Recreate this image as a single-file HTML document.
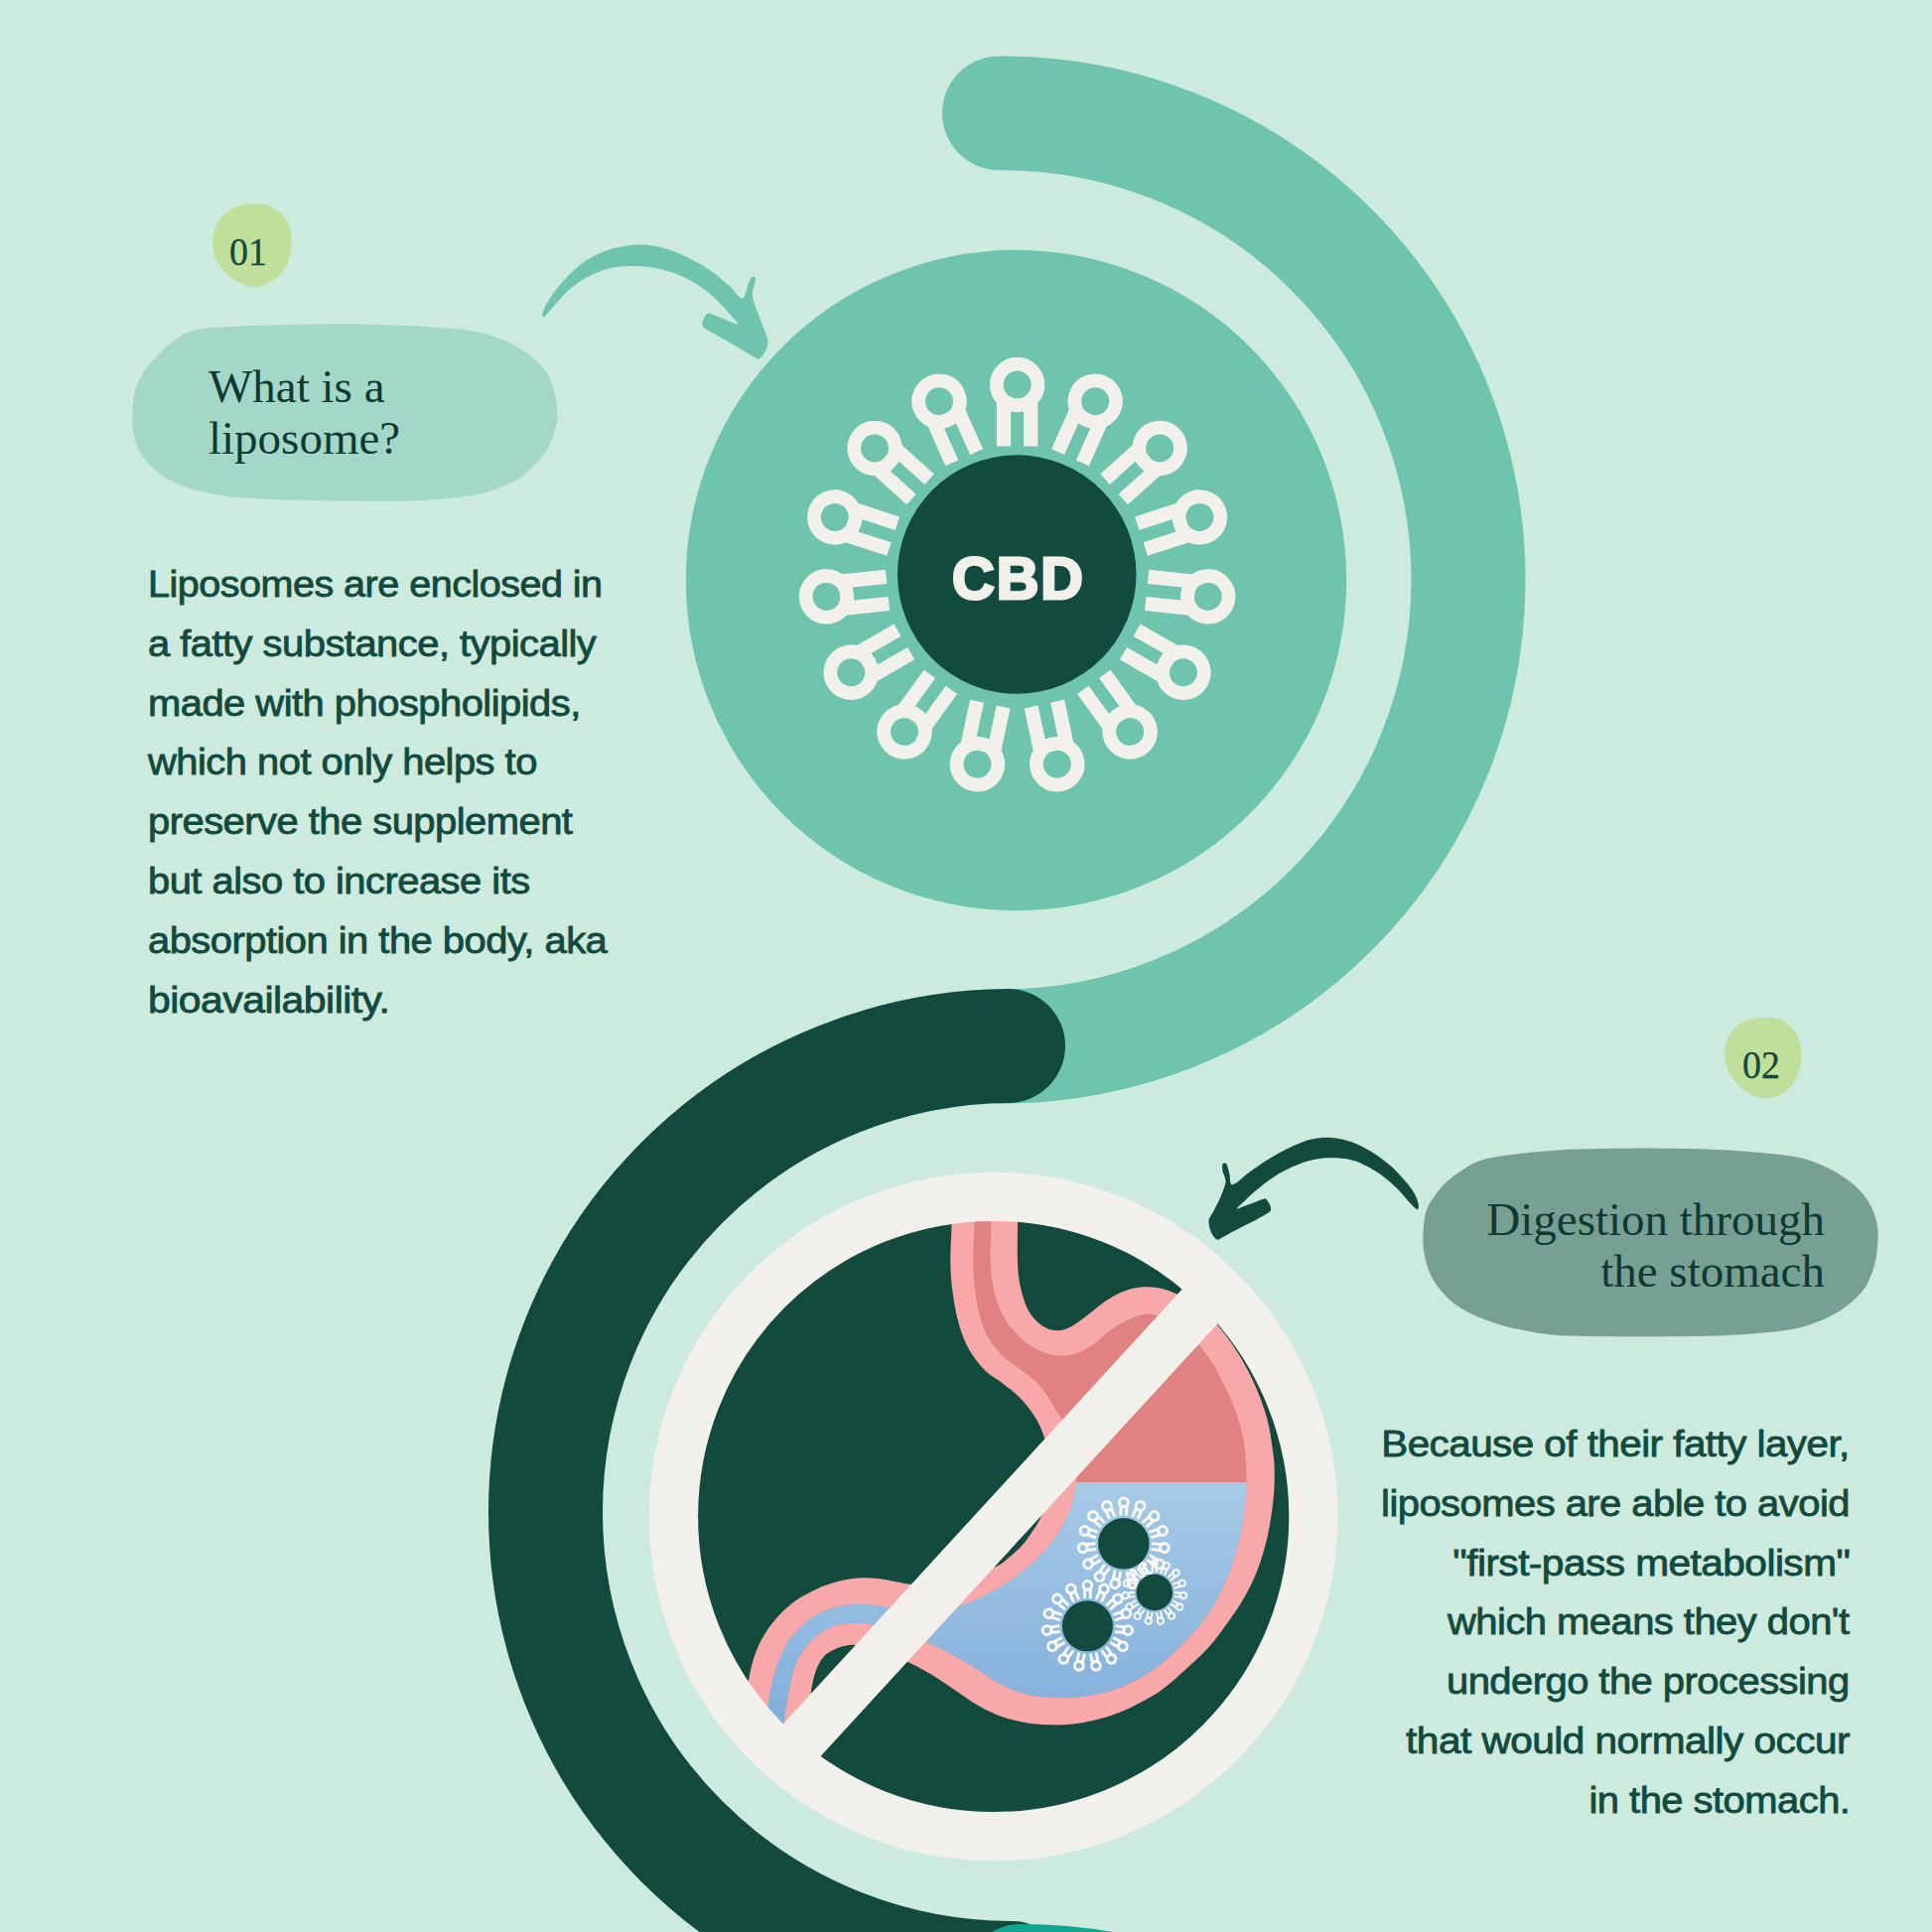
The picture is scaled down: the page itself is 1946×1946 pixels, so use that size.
<!DOCTYPE html>
<html><head><meta charset="utf-8">
<style>
html,body{margin:0;padding:0;}
body{width:1946px;height:1946px;background:#cdeadf;overflow:hidden;position:relative;font-family:"Liberation Sans",sans-serif;}
svg{position:absolute;left:0;top:0;}
.body{position:absolute;color:#124a3e;font-size:37px;line-height:59.8px;letter-spacing:-0.5px;-webkit-text-stroke:0.8px #124a3e;white-space:nowrap;}
.body span{display:inline-block;transform:scaleX(1.08);}
.l span{transform-origin:0 50%;}
.r span{transform-origin:100% 50%;}
.head{position:absolute;color:#0f3a33;font-family:"Liberation Serif",serif;font-size:47px;line-height:52px;white-space:nowrap;}
.num{position:absolute;width:80px;text-align:center;color:#124a3b;font-family:"Liberation Serif",serif;font-size:40px;line-height:40px;white-space:nowrap;-webkit-text-stroke:0.3px #124a3b;}
.num span{display:inline-block;transform:scaleX(0.95);}
</style></head><body>
<svg width="1946" height="1946" viewBox="0 0 1946 1946">
<defs>
<linearGradient id="bl" gradientUnits="userSpaceOnUse" x1="0" y1="1493" x2="0" y2="1735"><stop offset="0" stop-color="#a7cae6"/><stop offset="1" stop-color="#83afdc"/></linearGradient>
<clipPath id="wl"><rect x="600" y="1493" width="800" height="500"/></clipPath>
<clipPath id="cc"><circle cx="1000.7" cy="1527.5" r="310"/></clipPath>

<g id="lp"><g transform="rotate(0)"><circle cx="0" cy="-193.2" r="20.85" fill="none" stroke-width="13.7"/><path d="M-13.6 -131.3V-178M13.6 -131.3V-178" fill="none" stroke-width="14.2"/><rect x="-13.6" y="-179.6" width="27.2" height="13.3" stroke="none"/></g><g transform="rotate(24)"><circle cx="0" cy="-193.2" r="20.85" fill="none" stroke-width="13.7"/><path d="M-13.6 -131.3V-178M13.6 -131.3V-178" fill="none" stroke-width="14.2"/><rect x="-13.6" y="-179.6" width="27.2" height="13.3" stroke="none"/></g><g transform="rotate(48)"><circle cx="0" cy="-193.2" r="20.85" fill="none" stroke-width="13.7"/><path d="M-13.6 -131.3V-178M13.6 -131.3V-178" fill="none" stroke-width="14.2"/><rect x="-13.6" y="-179.6" width="27.2" height="13.3" stroke="none"/></g><g transform="rotate(72)"><circle cx="0" cy="-193.2" r="20.85" fill="none" stroke-width="13.7"/><path d="M-13.6 -131.3V-178M13.6 -131.3V-178" fill="none" stroke-width="14.2"/><rect x="-13.6" y="-179.6" width="27.2" height="13.3" stroke="none"/></g><g transform="rotate(96)"><circle cx="0" cy="-193.2" r="20.85" fill="none" stroke-width="13.7"/><path d="M-13.6 -131.3V-178M13.6 -131.3V-178" fill="none" stroke-width="14.2"/><rect x="-13.6" y="-179.6" width="27.2" height="13.3" stroke="none"/></g><g transform="rotate(120)"><circle cx="0" cy="-193.2" r="20.85" fill="none" stroke-width="13.7"/><path d="M-13.6 -131.3V-178M13.6 -131.3V-178" fill="none" stroke-width="14.2"/><rect x="-13.6" y="-179.6" width="27.2" height="13.3" stroke="none"/></g><g transform="rotate(144)"><circle cx="0" cy="-193.2" r="20.85" fill="none" stroke-width="13.7"/><path d="M-13.6 -131.3V-178M13.6 -131.3V-178" fill="none" stroke-width="14.2"/><rect x="-13.6" y="-179.6" width="27.2" height="13.3" stroke="none"/></g><g transform="rotate(168)"><circle cx="0" cy="-193.2" r="20.85" fill="none" stroke-width="13.7"/><path d="M-13.6 -131.3V-178M13.6 -131.3V-178" fill="none" stroke-width="14.2"/><rect x="-13.6" y="-179.6" width="27.2" height="13.3" stroke="none"/></g><g transform="rotate(192)"><circle cx="0" cy="-193.2" r="20.85" fill="none" stroke-width="13.7"/><path d="M-13.6 -131.3V-178M13.6 -131.3V-178" fill="none" stroke-width="14.2"/><rect x="-13.6" y="-179.6" width="27.2" height="13.3" stroke="none"/></g><g transform="rotate(216)"><circle cx="0" cy="-193.2" r="20.85" fill="none" stroke-width="13.7"/><path d="M-13.6 -131.3V-178M13.6 -131.3V-178" fill="none" stroke-width="14.2"/><rect x="-13.6" y="-179.6" width="27.2" height="13.3" stroke="none"/></g><g transform="rotate(240)"><circle cx="0" cy="-193.2" r="20.85" fill="none" stroke-width="13.7"/><path d="M-13.6 -131.3V-178M13.6 -131.3V-178" fill="none" stroke-width="14.2"/><rect x="-13.6" y="-179.6" width="27.2" height="13.3" stroke="none"/></g><g transform="rotate(264)"><circle cx="0" cy="-193.2" r="20.85" fill="none" stroke-width="13.7"/><path d="M-13.6 -131.3V-178M13.6 -131.3V-178" fill="none" stroke-width="14.2"/><rect x="-13.6" y="-179.6" width="27.2" height="13.3" stroke="none"/></g><g transform="rotate(288)"><circle cx="0" cy="-193.2" r="20.85" fill="none" stroke-width="13.7"/><path d="M-13.6 -131.3V-178M13.6 -131.3V-178" fill="none" stroke-width="14.2"/><rect x="-13.6" y="-179.6" width="27.2" height="13.3" stroke="none"/></g><g transform="rotate(312)"><circle cx="0" cy="-193.2" r="20.85" fill="none" stroke-width="13.7"/><path d="M-13.6 -131.3V-178M13.6 -131.3V-178" fill="none" stroke-width="14.2"/><rect x="-13.6" y="-179.6" width="27.2" height="13.3" stroke="none"/></g><g transform="rotate(336)"><circle cx="0" cy="-193.2" r="20.85" fill="none" stroke-width="13.7"/><path d="M-13.6 -131.3V-178M13.6 -131.3V-178" fill="none" stroke-width="14.2"/><rect x="-13.6" y="-179.6" width="27.2" height="13.3" stroke="none"/></g></g>
</defs>
<g fill="none" stroke-linecap="round" stroke-width="115">
<path stroke="#6ec4ad" d="M1006.5 114 A470 470 0 0 1 1479 584 A470 470 0 0 1 1009 1054"/>
<path stroke="#124a3e" d="M1015.5 1053.5 A469.5 469.5 0 0 0 549.5 1523 A469.5 469.5 0 0 0 1019 1992.5"/>
<path stroke="#12a58f" d="M1028 1995.5 A475.5 475.5 0 0 1 1503.5 2471"/>
</g>
<circle cx="1023.5" cy="584.5" r="332.7" fill="#6ec4ad"/>
<use href="#lp" transform="translate(1024.6 580.7)" fill="#f2f0eb" stroke="#f2f0eb"/>
<circle cx="1024.25" cy="578.6" r="120.25" fill="#124a3e"/>
<circle cx="1000.7" cy="1527.5" r="340" fill="#124a3e"/>
<g clip-path="url(#cc)">
<path d="M958.5 1200.0 C947.4 1205.6 958.7 1221.6 958.5 1233.6 C958.3 1245.6 957.1 1260.5 957.3 1272.1 C957.5 1283.7 958.3 1292.8 959.8 1303.2 C961.2 1313.6 963.3 1324.9 966.0 1334.2 C968.7 1343.5 971.6 1351.4 975.9 1359.1 C980.2 1366.8 986.2 1374.4 992.0 1380.2 C997.8 1386.0 1004.7 1389.1 1010.7 1393.9 C1016.7 1398.7 1022.9 1403.4 1028.1 1408.8 C1033.3 1414.2 1038.0 1420.3 1041.7 1426.1 C1045.4 1431.9 1048.0 1437.0 1050.4 1443.5 C1052.8 1450.0 1054.8 1457.6 1056.0 1465.0 C1057.2 1472.4 1057.7 1480.8 1057.5 1488.0 C1057.3 1495.2 1056.4 1501.5 1055.0 1508.0 C1053.6 1514.5 1051.4 1521.5 1048.9 1527.2 C1046.4 1532.9 1043.5 1537.1 1040.2 1542.1 C1036.9 1547.1 1033.2 1552.5 1029.1 1557.0 C1025.0 1561.5 1019.8 1565.9 1015.4 1569.4 C1011.0 1572.9 1009.7 1574.9 1003.0 1578.1 C996.3 1581.3 984.7 1585.8 975.0 1588.5 C965.3 1591.2 954.2 1593.2 945.0 1594.5 C935.8 1595.8 927.0 1596.2 920.0 1596.0 C913.0 1595.8 908.9 1594.3 903.0 1593.3 C897.1 1592.3 891.4 1590.6 884.9 1590.0 C878.4 1589.4 871.1 1589.0 864.2 1589.5 C857.3 1590.0 850.4 1591.3 843.5 1593.1 C836.6 1594.9 829.7 1597.3 822.8 1600.4 C815.9 1603.5 808.6 1607.2 802.1 1611.8 C795.6 1616.4 789.0 1622.3 783.5 1628.3 C778.0 1634.3 773.0 1641.3 769.0 1648.0 C765.0 1654.7 762.2 1661.3 759.7 1668.7 C757.2 1676.1 756.0 1682.3 754.0 1692.5 C752.0 1702.7 749.5 1715.4 748.0 1730.0 C746.5 1744.6 736.3 1768.3 745.0 1780.0 C753.7 1791.7 788.2 1806.7 800.0 1800.0 C811.8 1793.3 813.2 1755.2 816.0 1740.0 C818.8 1724.8 816.2 1716.3 816.6 1709.1 C817.0 1701.9 817.4 1700.8 818.2 1696.6 C819.0 1692.4 820.0 1688.0 821.3 1684.2 C822.6 1680.4 823.9 1677.0 825.9 1673.9 C827.9 1670.8 830.3 1667.9 833.2 1665.6 C836.1 1663.3 840.0 1661.3 843.5 1659.9 C847.0 1658.5 850.6 1657.7 853.9 1657.3 C857.2 1656.9 857.2 1656.3 863.2 1657.3 C869.2 1658.2 881.3 1660.1 890.0 1663.0 C898.7 1665.9 907.4 1670.5 915.5 1674.5 C923.6 1678.5 931.0 1682.3 938.8 1687.0 C946.6 1691.7 954.3 1697.3 962.1 1702.5 C969.9 1707.7 977.6 1713.6 985.4 1718.0 C993.2 1722.4 1000.9 1726.2 1008.7 1729.0 C1016.5 1731.8 1024.2 1733.6 1032.0 1735.0 C1039.8 1736.4 1047.5 1737.0 1055.3 1737.3 C1063.1 1737.6 1070.8 1737.5 1078.6 1736.7 C1086.4 1735.9 1094.1 1734.5 1101.9 1732.7 C1109.7 1730.9 1117.5 1728.8 1125.2 1725.8 C1133.0 1722.8 1140.7 1719.1 1148.4 1714.9 C1156.2 1710.8 1163.6 1706.9 1171.7 1700.9 C1179.8 1694.9 1189.2 1686.2 1197.0 1679.0 C1204.8 1671.8 1211.7 1665.7 1218.5 1658.0 C1225.3 1650.3 1231.9 1641.1 1237.8 1632.8 C1243.7 1624.5 1249.2 1616.5 1253.9 1608.0 C1258.7 1599.5 1262.8 1590.8 1266.3 1581.9 C1269.8 1573.0 1272.7 1563.2 1275.0 1554.5 C1277.3 1545.8 1278.7 1538.0 1280.0 1529.7 C1281.3 1521.4 1282.5 1513.1 1283.1 1504.8 C1283.7 1496.5 1283.8 1486.6 1283.7 1480.0 C1283.6 1473.4 1283.5 1472.7 1282.5 1465.0 C1281.5 1457.3 1279.8 1443.6 1277.5 1433.9 C1275.2 1424.2 1272.3 1415.7 1268.8 1406.6 C1265.3 1397.5 1261.0 1388.0 1256.4 1379.3 C1251.9 1370.6 1246.8 1362.2 1241.5 1354.4 C1236.2 1346.6 1230.8 1339.6 1224.7 1332.7 C1218.6 1325.8 1211.7 1318.0 1205.0 1313.0 C1198.3 1308.0 1190.6 1305.5 1184.3 1302.9 C1178.0 1300.3 1173.0 1298.3 1167.0 1297.3 C1161.0 1296.2 1154.5 1295.9 1148.3 1296.6 C1142.1 1297.3 1135.9 1299.0 1129.7 1301.6 C1123.5 1304.2 1117.3 1308.0 1111.1 1312.2 C1104.9 1316.5 1098.4 1322.8 1092.4 1327.1 C1086.4 1331.4 1080.6 1335.9 1075.3 1338.0 C1070.0 1340.1 1065.2 1340.6 1060.4 1339.8 C1055.6 1339.0 1050.9 1336.4 1046.7 1333.0 C1042.5 1329.6 1038.6 1325.3 1035.5 1319.3 C1032.4 1313.3 1029.8 1304.9 1028.1 1297.0 C1026.3 1289.1 1025.5 1282.9 1025.0 1272.1 C1024.5 1261.3 1025.0 1244.4 1025.0 1232.4 C1025.0 1220.4 1036.1 1205.4 1025.0 1200.0 C1013.9 1194.6 969.6 1194.4 958.5 1200.0Z" fill="#f8a8a8"/>
<path d="M981.5 1200.0 C978.7 1205.4 981.7 1220.4 981.5 1232.4 C981.3 1244.4 979.9 1259.3 980.2 1272.1 C980.5 1284.9 981.4 1298.0 983.4 1309.4 C985.4 1320.8 988.1 1331.5 992.0 1340.4 C995.9 1349.3 1001.4 1356.6 1007.0 1362.8 C1012.6 1369.0 1019.8 1373.2 1025.6 1377.7 C1031.4 1382.2 1036.9 1385.5 1041.7 1390.1 C1046.5 1394.6 1050.5 1399.8 1054.2 1405.0 C1057.9 1410.2 1061.2 1416.6 1064.1 1421.2 C1067.0 1425.8 1069.1 1427.3 1071.6 1432.4 C1074.1 1437.5 1077.0 1445.1 1079.0 1452.0 C1081.0 1458.9 1082.7 1466.8 1083.5 1474.0 C1084.3 1481.2 1084.5 1487.7 1083.7 1494.9 C1082.9 1502.1 1081.3 1509.8 1078.8 1517.3 C1076.3 1524.8 1072.9 1532.6 1068.8 1539.6 C1064.7 1546.6 1059.5 1553.1 1053.9 1559.5 C1048.3 1565.9 1041.9 1572.3 1035.3 1578.1 C1028.7 1583.9 1021.5 1589.5 1014.2 1594.3 C1007.0 1599.1 999.3 1603.0 991.8 1606.7 C984.3 1610.4 978.9 1614.2 969.4 1616.6 C959.9 1619.0 947.2 1620.6 935.0 1621.0 C922.8 1621.4 905.5 1619.8 896.3 1619.0 C887.1 1618.2 886.0 1616.9 879.8 1616.4 C873.6 1615.9 865.9 1615.4 859.0 1615.9 C852.1 1616.4 844.7 1617.6 838.3 1619.5 C831.9 1621.4 826.0 1624.1 820.7 1627.3 C815.4 1630.5 810.8 1634.4 806.3 1638.7 C801.8 1643.0 797.4 1647.7 793.8 1653.2 C790.2 1658.7 787.1 1665.2 784.5 1671.8 C781.9 1678.3 780.0 1685.6 778.3 1692.5 C776.6 1699.4 775.2 1705.3 774.2 1713.2 C773.2 1721.1 772.5 1727.2 772.0 1740.0 C771.5 1752.8 768.5 1781.7 771.0 1790.0 C773.5 1798.3 784.0 1793.7 787.0 1790.0 C790.0 1786.3 788.2 1777.0 788.7 1768.0 C789.2 1759.0 789.0 1745.1 789.7 1736.0 C790.4 1726.9 791.6 1720.5 792.8 1713.2 C794.0 1706.0 795.3 1698.9 796.9 1692.5 C798.5 1686.1 799.9 1680.2 802.1 1674.9 C804.4 1669.6 807.3 1664.7 810.4 1660.4 C813.5 1656.1 816.9 1652.3 820.7 1649.0 C824.5 1645.7 828.5 1642.9 833.2 1640.7 C837.9 1638.5 843.5 1637.0 848.7 1636.1 C853.9 1635.1 859.4 1634.9 864.2 1635.0 C869.0 1635.1 870.9 1635.4 877.7 1636.6 C884.5 1637.8 895.6 1639.0 905.0 1642.0 C914.4 1645.0 924.7 1649.9 934.2 1654.3 C943.7 1658.7 953.6 1663.6 962.1 1668.3 C970.6 1673.0 977.6 1677.5 985.4 1682.3 C993.2 1687.1 1000.9 1693.0 1008.7 1697.0 C1016.5 1701.0 1024.2 1704.2 1032.0 1706.3 C1039.8 1708.4 1047.5 1708.8 1055.3 1709.5 C1063.1 1710.2 1070.8 1710.6 1078.6 1710.2 C1086.4 1709.8 1094.1 1708.6 1101.9 1707.1 C1109.7 1705.5 1117.5 1703.8 1125.2 1700.9 C1133.0 1698.1 1140.7 1694.4 1148.4 1690.0 C1156.2 1685.6 1164.4 1680.3 1171.7 1674.5 C1179.0 1668.7 1186.2 1660.9 1192.0 1655.0 C1197.8 1649.1 1201.5 1645.4 1206.7 1639.0 C1211.9 1632.6 1218.1 1624.5 1222.9 1616.6 C1227.7 1608.7 1231.8 1600.1 1235.3 1591.8 C1238.8 1583.5 1241.5 1575.3 1244.0 1567.0 C1246.5 1558.7 1248.5 1550.4 1250.2 1542.1 C1251.9 1533.8 1253.0 1525.4 1253.9 1517.3 C1254.8 1509.2 1255.4 1502.2 1255.5 1493.5 C1255.6 1484.8 1255.4 1473.9 1254.5 1465.0 C1253.6 1456.1 1252.2 1448.2 1250.2 1440.1 C1248.2 1432.0 1245.6 1424.2 1242.7 1416.5 C1239.8 1408.8 1236.5 1401.7 1232.8 1394.2 C1229.1 1386.8 1224.8 1378.5 1220.4 1371.8 C1216.1 1365.1 1211.8 1359.8 1206.7 1353.8 C1201.6 1347.8 1196.8 1340.8 1190.0 1336.0 C1183.2 1331.2 1172.0 1327.2 1165.7 1325.2 C1159.4 1323.2 1157.0 1323.3 1152.0 1324.0 C1147.0 1324.7 1141.7 1326.8 1135.9 1329.6 C1130.1 1332.4 1123.3 1336.4 1117.3 1340.7 C1111.3 1345.0 1106.1 1351.4 1100.1 1355.3 C1094.1 1359.2 1087.7 1362.3 1081.5 1364.0 C1075.3 1365.7 1069.1 1366.1 1062.9 1365.3 C1056.7 1364.5 1050.2 1362.2 1044.2 1359.1 C1038.2 1356.0 1032.2 1351.8 1026.8 1346.6 C1021.4 1341.4 1016.0 1335.2 1011.9 1328.0 C1007.8 1320.8 1004.4 1312.5 1002.0 1303.2 C999.6 1293.9 998.2 1283.9 997.6 1272.1 C997.0 1260.3 998.2 1244.4 998.3 1232.4 C998.4 1220.4 1001.1 1205.4 998.3 1200.0 C995.5 1194.6 984.3 1194.6 981.5 1200.0Z" fill="#e08282"/>
<path d="M981.5 1200.0 C978.7 1205.4 981.7 1220.4 981.5 1232.4 C981.3 1244.4 979.9 1259.3 980.2 1272.1 C980.5 1284.9 981.4 1298.0 983.4 1309.4 C985.4 1320.8 988.1 1331.5 992.0 1340.4 C995.9 1349.3 1001.4 1356.6 1007.0 1362.8 C1012.6 1369.0 1019.8 1373.2 1025.6 1377.7 C1031.4 1382.2 1036.9 1385.5 1041.7 1390.1 C1046.5 1394.6 1050.5 1399.8 1054.2 1405.0 C1057.9 1410.2 1061.2 1416.6 1064.1 1421.2 C1067.0 1425.8 1069.1 1427.3 1071.6 1432.4 C1074.1 1437.5 1077.0 1445.1 1079.0 1452.0 C1081.0 1458.9 1082.7 1466.8 1083.5 1474.0 C1084.3 1481.2 1084.5 1487.7 1083.7 1494.9 C1082.9 1502.1 1081.3 1509.8 1078.8 1517.3 C1076.3 1524.8 1072.9 1532.6 1068.8 1539.6 C1064.7 1546.6 1059.5 1553.1 1053.9 1559.5 C1048.3 1565.9 1041.9 1572.3 1035.3 1578.1 C1028.7 1583.9 1021.5 1589.5 1014.2 1594.3 C1007.0 1599.1 999.3 1603.0 991.8 1606.7 C984.3 1610.4 978.9 1614.2 969.4 1616.6 C959.9 1619.0 947.2 1620.6 935.0 1621.0 C922.8 1621.4 905.5 1619.8 896.3 1619.0 C887.1 1618.2 886.0 1616.9 879.8 1616.4 C873.6 1615.9 865.9 1615.4 859.0 1615.9 C852.1 1616.4 844.7 1617.6 838.3 1619.5 C831.9 1621.4 826.0 1624.1 820.7 1627.3 C815.4 1630.5 810.8 1634.4 806.3 1638.7 C801.8 1643.0 797.4 1647.7 793.8 1653.2 C790.2 1658.7 787.1 1665.2 784.5 1671.8 C781.9 1678.3 780.0 1685.6 778.3 1692.5 C776.6 1699.4 775.2 1705.3 774.2 1713.2 C773.2 1721.1 772.5 1727.2 772.0 1740.0 C771.5 1752.8 768.5 1781.7 771.0 1790.0 C773.5 1798.3 784.0 1793.7 787.0 1790.0 C790.0 1786.3 788.2 1777.0 788.7 1768.0 C789.2 1759.0 789.0 1745.1 789.7 1736.0 C790.4 1726.9 791.6 1720.5 792.8 1713.2 C794.0 1706.0 795.3 1698.9 796.9 1692.5 C798.5 1686.1 799.9 1680.2 802.1 1674.9 C804.4 1669.6 807.3 1664.7 810.4 1660.4 C813.5 1656.1 816.9 1652.3 820.7 1649.0 C824.5 1645.7 828.5 1642.9 833.2 1640.7 C837.9 1638.5 843.5 1637.0 848.7 1636.1 C853.9 1635.1 859.4 1634.9 864.2 1635.0 C869.0 1635.1 870.9 1635.4 877.7 1636.6 C884.5 1637.8 895.6 1639.0 905.0 1642.0 C914.4 1645.0 924.7 1649.9 934.2 1654.3 C943.7 1658.7 953.6 1663.6 962.1 1668.3 C970.6 1673.0 977.6 1677.5 985.4 1682.3 C993.2 1687.1 1000.9 1693.0 1008.7 1697.0 C1016.5 1701.0 1024.2 1704.2 1032.0 1706.3 C1039.8 1708.4 1047.5 1708.8 1055.3 1709.5 C1063.1 1710.2 1070.8 1710.6 1078.6 1710.2 C1086.4 1709.8 1094.1 1708.6 1101.9 1707.1 C1109.7 1705.5 1117.5 1703.8 1125.2 1700.9 C1133.0 1698.1 1140.7 1694.4 1148.4 1690.0 C1156.2 1685.6 1164.4 1680.3 1171.7 1674.5 C1179.0 1668.7 1186.2 1660.9 1192.0 1655.0 C1197.8 1649.1 1201.5 1645.4 1206.7 1639.0 C1211.9 1632.6 1218.1 1624.5 1222.9 1616.6 C1227.7 1608.7 1231.8 1600.1 1235.3 1591.8 C1238.8 1583.5 1241.5 1575.3 1244.0 1567.0 C1246.5 1558.7 1248.5 1550.4 1250.2 1542.1 C1251.9 1533.8 1253.0 1525.4 1253.9 1517.3 C1254.8 1509.2 1255.4 1502.2 1255.5 1493.5 C1255.6 1484.8 1255.4 1473.9 1254.5 1465.0 C1253.6 1456.1 1252.2 1448.2 1250.2 1440.1 C1248.2 1432.0 1245.6 1424.2 1242.7 1416.5 C1239.8 1408.8 1236.5 1401.7 1232.8 1394.2 C1229.1 1386.8 1224.8 1378.5 1220.4 1371.8 C1216.1 1365.1 1211.8 1359.8 1206.7 1353.8 C1201.6 1347.8 1196.8 1340.8 1190.0 1336.0 C1183.2 1331.2 1172.0 1327.2 1165.7 1325.2 C1159.4 1323.2 1157.0 1323.3 1152.0 1324.0 C1147.0 1324.7 1141.7 1326.8 1135.9 1329.6 C1130.1 1332.4 1123.3 1336.4 1117.3 1340.7 C1111.3 1345.0 1106.1 1351.4 1100.1 1355.3 C1094.1 1359.2 1087.7 1362.3 1081.5 1364.0 C1075.3 1365.7 1069.1 1366.1 1062.9 1365.3 C1056.7 1364.5 1050.2 1362.2 1044.2 1359.1 C1038.2 1356.0 1032.2 1351.8 1026.8 1346.6 C1021.4 1341.4 1016.0 1335.2 1011.9 1328.0 C1007.8 1320.8 1004.4 1312.5 1002.0 1303.2 C999.6 1293.9 998.2 1283.9 997.6 1272.1 C997.0 1260.3 998.2 1244.4 998.3 1232.4 C998.4 1220.4 1001.1 1205.4 998.3 1200.0 C995.5 1194.6 984.3 1194.6 981.5 1200.0Z" fill="url(#bl)" clip-path="url(#wl)"/>
<use href="#lp" transform="translate(1162.8 1603.9) scale(0.152)" fill="#f7f7f4" stroke="#f7f7f4"/>
<use href="#lp" transform="translate(1131.8 1554.7) scale(0.214)" fill="#f7f7f4" stroke="#f7f7f4"/>
<use href="#lp" transform="translate(1095.4 1637.8) scale(0.212)" fill="#f7f7f4" stroke="#f7f7f4"/>
<circle cx="1162.8" cy="1603.9" r="18.316" fill="#124a3e"/>
<circle cx="1131.8" cy="1554.7" r="25.787" fill="#124a3e"/>
<circle cx="1095.4" cy="1637.8" r="25.546" fill="#124a3e"/>
</g>
<circle cx="1000.7" cy="1527.5" r="322.2" fill="none" stroke="#f2f0eb" stroke-width="49.2"/>
<line x1="794.5" y1="1767.1" x2="1220.5" y2="1302.9" stroke="#f2f0eb" stroke-width="49.8"/>
<path d="M256.9 205.3 C261.4 205.4 266.9 205.7 271.2 207.2 C275.5 208.8 279.4 211.5 282.6 214.4 C285.7 217.3 288.2 220.7 290.0 224.6 C291.8 228.5 292.9 233.2 293.4 237.7 C293.9 242.3 293.6 247.2 292.8 251.9 C292.1 256.7 290.8 261.9 288.8 266.2 C286.8 270.5 284.1 274.3 280.9 277.6 C277.6 280.8 273.5 283.6 269.5 285.5 C265.5 287.4 261.1 288.9 256.9 289.0 C252.8 289.1 248.6 287.7 244.4 286.1 C240.2 284.5 235.6 282.1 231.9 279.3 C228.2 276.4 224.9 272.8 222.2 269.0 C219.6 265.2 217.3 260.8 215.9 256.5 C214.6 252.2 213.9 247.8 214.0 243.4 C214.0 239.0 215.0 234.4 216.5 230.3 C218.0 226.2 220.1 222.1 222.8 218.9 C225.4 215.7 228.9 213.0 232.5 210.9 C236.1 208.9 240.3 207.3 244.4 206.4 C248.5 205.4 252.5 205.1 256.9 205.3Z" fill="#bfdf9b"/>
<path d="M1781.5 1024.8 C1785.9 1025.1 1790.2 1025.7 1794.0 1027.4 C1797.8 1029.0 1801.4 1031.8 1804.3 1034.8 C1807.1 1037.7 1809.4 1041.2 1811.1 1045.0 C1812.8 1048.8 1814.1 1053.4 1814.5 1057.6 C1815.0 1061.7 1814.6 1065.8 1814.0 1070.1 C1813.3 1074.4 1812.4 1079.0 1810.5 1083.2 C1808.7 1087.4 1806.2 1091.8 1803.1 1095.1 C1800.1 1098.5 1796.3 1101.2 1792.3 1103.1 C1788.3 1105.0 1783.5 1106.4 1779.2 1106.5 C1775.0 1106.6 1770.7 1105.3 1766.7 1103.7 C1762.7 1102.1 1758.8 1099.7 1755.3 1096.9 C1751.8 1094.0 1748.3 1090.4 1745.6 1086.6 C1743.0 1082.8 1740.8 1078.3 1739.4 1074.1 C1737.9 1069.8 1737.1 1065.2 1737.1 1061.0 C1737.1 1056.7 1737.9 1052.3 1739.4 1048.4 C1740.8 1044.6 1743.0 1040.8 1745.6 1037.6 C1748.3 1034.5 1751.6 1031.6 1755.3 1029.7 C1759.0 1027.7 1763.5 1026.5 1767.8 1025.7 C1772.2 1024.9 1777.1 1024.5 1781.5 1024.8Z" fill="#bfdf9b"/>
<path d="M195.4 332.7 C206.6 329.9 223.4 329.8 239.4 328.8 C255.4 327.9 273.9 327.4 291.2 327.0 C308.4 326.6 325.7 326.4 342.9 326.5 C360.2 326.6 377.9 326.9 394.7 327.5 C411.5 328.1 428.8 328.8 443.9 330.1 C458.9 331.4 473.6 332.7 485.3 335.3 C496.9 337.9 505.5 341.7 513.7 345.6 C521.9 349.5 528.4 353.8 534.4 358.6 C540.5 363.3 546.1 368.5 550.0 374.1 C553.8 379.7 555.8 384.9 557.7 392.2 C559.7 399.5 561.6 410.5 561.6 418.1 C561.6 425.6 559.7 431.5 557.7 437.5 C555.8 443.5 553.4 448.9 550.0 454.3 C546.5 459.7 541.8 465.1 537.0 469.9 C532.3 474.6 528.0 478.9 521.5 482.8 C515.0 486.7 506.4 490.3 498.2 493.1 C490.0 496.0 483.1 497.9 472.3 499.6 C461.5 501.3 446.4 502.6 433.5 503.5 C420.6 504.4 409.8 504.6 394.7 504.8 C379.6 505.0 360.2 504.7 342.9 504.5 C325.7 504.3 305.4 503.9 291.2 503.5 C276.9 503.1 268.3 502.9 257.5 502.2 C246.7 501.6 236.4 501.0 226.5 499.6 C216.5 498.2 206.6 496.0 198.0 493.7 C189.4 491.3 181.6 488.7 174.7 485.4 C167.8 482.1 161.8 478.1 156.6 473.7 C151.4 469.4 147.1 464.7 143.6 459.5 C140.2 454.3 137.6 448.3 135.9 442.7 C134.2 437.1 133.6 431.3 133.3 425.9 C132.9 420.5 133.4 415.5 133.8 410.3 C134.2 405.2 134.5 400.0 135.9 394.8 C137.3 389.6 139.8 384.0 142.3 379.3 C144.9 374.5 146.4 371.9 151.4 366.3 C156.4 360.7 164.8 351.2 172.1 345.6 C179.4 340.0 184.2 335.5 195.4 332.7Z" fill="#a3d8c9"/>
<path d="M1493.3 1168.3 C1502.7 1165.6 1517.3 1163.7 1530.0 1162.1 C1542.7 1160.4 1555.9 1159.2 1569.6 1158.4 C1583.2 1157.5 1597.9 1157.3 1612.0 1157.0 C1626.1 1156.6 1640.2 1156.4 1654.4 1156.4 C1668.5 1156.4 1682.6 1156.6 1696.8 1157.0 C1710.9 1157.3 1726.0 1157.7 1739.2 1158.4 C1752.4 1159.1 1764.1 1160.0 1775.9 1161.2 C1787.7 1162.4 1800.4 1163.6 1809.8 1165.5 C1819.3 1167.3 1825.4 1169.7 1832.4 1172.5 C1839.5 1175.3 1846.3 1178.9 1852.2 1182.4 C1858.1 1185.9 1863.1 1189.5 1867.8 1193.7 C1872.5 1198.0 1877.2 1203.1 1880.5 1207.9 C1883.8 1212.6 1885.8 1217.3 1887.6 1222.0 C1889.4 1226.7 1890.6 1230.9 1891.2 1236.1 C1891.9 1241.3 1891.6 1247.4 1891.2 1253.1 C1890.9 1258.7 1890.1 1264.9 1889.0 1270.0 C1887.9 1275.2 1886.6 1279.5 1884.7 1284.2 C1882.9 1288.9 1880.7 1294.0 1877.7 1298.3 C1874.6 1302.6 1870.6 1306.4 1866.4 1310.2 C1862.1 1313.9 1857.9 1317.5 1852.2 1320.9 C1846.6 1324.3 1839.5 1328.0 1832.4 1330.8 C1825.4 1333.6 1819.3 1335.9 1809.8 1337.9 C1800.4 1339.8 1787.7 1341.2 1775.9 1342.4 C1764.1 1343.6 1752.4 1344.3 1739.2 1344.9 C1726.0 1345.5 1710.9 1345.8 1696.8 1346.1 C1682.6 1346.3 1668.5 1346.3 1654.4 1346.3 C1640.2 1346.3 1626.1 1346.3 1612.0 1346.1 C1597.9 1345.8 1581.4 1345.7 1569.6 1344.9 C1557.8 1344.1 1550.7 1342.9 1541.3 1341.3 C1531.9 1339.6 1521.8 1337.5 1513.1 1335.0 C1504.3 1332.6 1496.6 1329.9 1489.0 1326.6 C1481.5 1323.3 1473.7 1319.3 1467.8 1315.3 C1461.9 1311.3 1457.9 1307.2 1453.7 1302.5 C1449.5 1297.8 1445.3 1292.4 1442.4 1287.0 C1439.5 1281.6 1437.7 1275.7 1436.2 1270.0 C1434.7 1264.4 1433.7 1258.7 1433.4 1253.1 C1433.0 1247.4 1433.4 1241.8 1433.9 1236.1 C1434.5 1230.5 1434.9 1224.4 1436.7 1219.2 C1438.6 1213.9 1441.9 1209.2 1445.2 1204.5 C1448.5 1199.7 1451.8 1195.3 1456.5 1190.9 C1461.2 1186.5 1467.4 1181.9 1473.5 1178.2 C1479.6 1174.4 1483.9 1171.0 1493.3 1168.3Z" fill="#789f93"/>
<path d="M547.5 319.5 C545.9 320.2 546.1 316.7 547.2 313.4 C548.3 310.2 550.4 305.6 554.2 300.0 C558.1 294.4 564.3 286.1 570.4 279.8 C576.4 273.5 583.4 267.0 590.6 262.3 C597.7 257.6 605.6 254.1 613.4 251.5 C621.3 249.0 630.3 247.5 637.7 246.8 C645.1 246.2 651.1 246.5 657.9 247.5 C664.6 248.5 671.3 250.4 678.0 252.9 C684.8 255.3 691.5 258.7 698.2 262.3 C705.0 265.9 712.4 270.2 718.4 274.4 C724.5 278.7 729.6 283.5 734.6 287.9 C739.5 292.2 744.9 300.9 748.0 300.7 C751.2 300.4 751.8 290.1 753.4 286.5 C755.0 282.9 756.2 280.2 757.5 279.1 C758.7 278.0 760.3 278.8 760.8 279.8 C761.3 280.8 760.9 282.9 760.4 285.2 C760.0 287.4 758.4 290.3 758.1 293.3 C757.9 296.2 757.8 298.6 758.8 302.7 C759.8 306.7 762.2 312.1 764.2 317.5 C766.2 322.9 769.3 330.5 770.9 335.0 C772.5 339.5 773.6 341.3 773.6 344.4 C773.6 347.5 772.4 351.0 770.9 353.8 C769.5 356.6 766.9 360.3 764.9 361.2 C762.8 362.1 763.2 361.6 758.8 359.2 C754.4 356.9 745.3 351.0 738.6 347.1 C731.9 343.2 723.4 338.5 718.4 335.7 C713.5 332.8 710.8 332.0 709.0 330.3 C707.2 328.6 707.3 327.4 707.4 325.6 C707.5 323.8 708.6 321.2 709.7 319.5 C710.7 317.8 711.8 315.7 713.7 315.5 C715.6 315.2 717.6 316.8 721.1 318.2 C724.6 319.5 730.9 322.1 734.6 323.5 C738.3 325.0 742.9 327.4 743.3 326.6 C743.8 325.9 740.3 322.4 737.3 318.8 C734.2 315.3 729.4 309.6 725.2 305.4 C720.9 301.1 716.9 297.2 711.7 293.3 C706.5 289.3 700.3 285.1 694.2 281.8 C688.1 278.6 682.1 275.9 675.4 273.7 C668.6 271.6 660.6 270.0 653.8 269.0 C647.1 268.1 641.3 267.8 635.0 268.0 C628.7 268.1 622.0 268.5 616.1 269.7 C610.3 270.9 605.4 272.7 600.0 275.1 C594.6 277.4 588.8 280.6 583.8 283.8 C578.9 287.1 574.9 290.3 570.4 294.6 C565.9 298.9 560.7 305.3 556.9 309.4 C553.1 313.6 549.1 318.8 547.5 319.5Z" fill="#6ec4ad"/>
<path d="M1427.5 1218.2 C1429.0 1218.4 1429.2 1215.1 1428.5 1212.1 C1427.9 1209.1 1426.1 1204.2 1423.4 1200.0 C1420.8 1195.7 1416.7 1191.0 1412.7 1186.5 C1408.6 1182.0 1404.4 1177.4 1399.2 1173.1 C1394.0 1168.7 1388.0 1164.1 1381.7 1160.3 C1375.4 1156.5 1368.2 1152.6 1361.5 1150.2 C1354.8 1147.8 1348.0 1146.3 1341.3 1145.9 C1334.6 1145.4 1327.9 1146.0 1321.1 1147.5 C1314.4 1149.0 1307.7 1151.9 1300.9 1154.9 C1294.2 1157.9 1287.5 1161.6 1280.8 1165.7 C1274.0 1169.7 1267.1 1174.5 1260.6 1179.1 C1254.1 1183.7 1245.4 1192.7 1241.7 1193.3 C1238.0 1193.8 1239.4 1185.9 1238.4 1182.5 C1237.3 1179.1 1236.6 1174.9 1235.7 1173.1 C1234.8 1171.2 1233.7 1171.3 1233.0 1171.5 C1232.2 1171.6 1231.4 1172.4 1231.2 1173.7 C1231.0 1175.1 1231.1 1177.4 1231.6 1179.8 C1232.1 1182.2 1234.0 1185.4 1234.3 1187.9 C1234.7 1190.3 1234.5 1191.5 1233.6 1194.6 C1232.8 1197.7 1230.8 1202.5 1228.9 1206.7 C1227.0 1211.0 1224.1 1216.4 1222.2 1220.2 C1220.3 1224.0 1217.8 1226.0 1217.5 1229.6 C1217.2 1233.2 1218.8 1238.6 1220.2 1241.7 C1221.5 1244.8 1223.8 1247.7 1225.6 1248.4 C1227.4 1249.2 1227.4 1248.2 1231.0 1246.4 C1234.5 1244.6 1241.5 1240.6 1247.1 1237.7 C1252.7 1234.8 1259.6 1231.6 1264.6 1228.9 C1269.7 1226.2 1274.8 1223.3 1277.4 1221.5 C1280.0 1219.7 1279.9 1219.6 1280.1 1218.2 C1280.3 1216.7 1279.5 1214.5 1278.7 1212.8 C1277.9 1211.1 1276.3 1209.0 1275.4 1208.1 C1274.5 1207.2 1275.1 1206.9 1273.4 1207.4 C1271.6 1207.8 1267.9 1209.5 1264.6 1210.8 C1261.4 1212.0 1257.0 1213.7 1253.8 1214.8 C1250.7 1215.9 1245.8 1218.4 1245.8 1217.5 C1245.8 1216.6 1250.2 1212.8 1253.8 1209.4 C1257.4 1206.0 1262.4 1201.3 1267.3 1197.3 C1272.2 1193.3 1277.6 1188.9 1283.4 1185.2 C1289.3 1181.5 1296.0 1177.9 1302.3 1175.1 C1308.6 1172.3 1314.6 1169.8 1321.1 1168.4 C1327.6 1166.9 1334.6 1166.3 1341.3 1166.3 C1348.0 1166.3 1355.2 1166.8 1361.5 1168.4 C1367.8 1169.9 1373.4 1172.7 1379.0 1175.8 C1384.6 1178.8 1390.2 1182.7 1395.2 1186.5 C1400.1 1190.3 1404.6 1194.6 1408.6 1198.6 C1412.7 1202.7 1416.2 1207.5 1419.4 1210.8 C1422.5 1214.0 1425.9 1217.9 1427.5 1218.2Z" fill="#124a3e"/>
</svg>
<div class="num" style="left:210.4px;top:233.5px;"><span>01</span></div>
<div class="num" style="left:1734.1px;top:1052.5px;"><span>02</span></div>
<div class="head" style="left:210px;top:363px;">What is a<br>liposome?</div>
<div class="head" style="right:108px;top:1202px;text-align:right;">Digestion through<br>the stomach</div>
<div class="body l" style="left:149px;top:559px;"><span style="transform:scaleX(1.07)">Liposomes are enclosed in</span><br><span>a fatty substance, typically</span><br><span>made with phospholipids,</span><br><span>which not only helps to</span><br><span>preserve the supplement</span><br><span>but also to increase its</span><br><span>absorption in the body, aka</span><br><span style="transform:scaleX(1.108)">bioavailability.</span></div>
<div class="body r" style="right:83px;top:1425px;text-align:right;"><span style="transform:scaleX(1.092)">Because of their fatty layer,</span><br><span>liposomes are able to avoid</span><br><span style="transform:scaleX(1.098)">"first-pass metabolism"</span><br><span>which means they don't</span><br><span>undergo the processing</span><br><span style="transform:scaleX(1.098)">that would normally occur</span><br><span>in the stomach.</span></div>
<div style="position:absolute;left:904.5px;top:547px;width:241px;text-align:center;color:#f2f0eb;font-weight:bold;font-size:59px;line-height:72px;letter-spacing:2px;text-indent:2px;-webkit-text-stroke:3px #f2f0eb;">CBD</div>
</body></html>
